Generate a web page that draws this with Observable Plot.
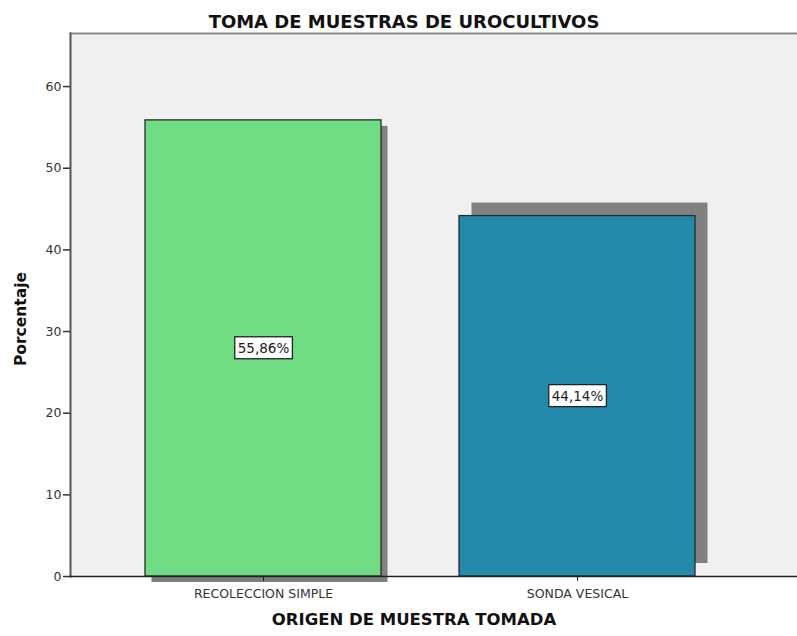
<!DOCTYPE html>
<html>
<head>
<meta charset="utf-8">
<script src="https://cdn.jsdelivr.net/npm/d3@7"></script>
<script src="https://cdn.jsdelivr.net/npm/@observablehq/plot@0.6"></script>
<style>
  html, body { margin: 0; padding: 0; background: #fff; }
  #chart svg { display: block; }
</style>
</head>
<body>
<div id="chart"></div>
<script>
const categories = ["RECOLECCION SIMPLE", "SONDA VESICAL"];
const percentages = [55.86, 44.14];
const barColors = ["#70dc84", "#238aab"];
const yTicks = [0, 10, 20, 30, 40, 50, 60];
const title = "TOMA DE MUESTRAS DE UROCULTIVOS";
const xLabel = "ORIGEN DE MUESTRA TOMADA";
const yLabel = "Porcentaje";

const data = categories.map((c, i) => ({cat: c, pct: percentages[i]}));
const fmt = v => v.toFixed(2).replace(".", ",") + "%";
const font = "DejaVu Sans, sans-serif";

const chart = Plot.plot({
  width: 797,
  height: 636,
  marginTop: 33,
  marginLeft: 70,
  marginRight: 0,
  marginBottom: 60,
  style: {fontFamily: font, fontSize: "12px", color: "#333", background: "#fff"},
  x: {domain: categories, range: [70, 768.5], paddingInner: 0.25, paddingOuter: 0.235, label: null},
  y: {domain: [0, 66.5], label: null},
  color: {domain: categories, range: barColors},
  marks: [
    Plot.frame({fill: "#f0f0f0", stroke: null}),
    Plot.frame({anchor: "top", stroke: "#8a8a8a", strokeWidth: 2}),
    Plot.barY(data.filter((d, i) => i === 0), {x: "cat", y: "pct", fill: "#808080", dx: 6.5, dy: 6}),
    Plot.barY(data.filter((d, i) => i === 1), {x: "cat", y: "pct", fill: "#808080", dx: 12.5, dy: -13}),
    Plot.barY(data, {x: "cat", y: "pct", fill: "cat", stroke: "#2a2a2a", strokeWidth: 1.3}),
    Plot.frame({anchor: "left", stroke: "#555", strokeWidth: 2}),
    Plot.ruleY([0], {stroke: "#222", strokeWidth: 1.5}),
    Plot.axisY({ticks: yTicks, tickSize: 7, tickPadding: 2, label: null, fontSize: 12.5, stroke: "#333", strokeWidth: 1.5}),
    Plot.axisX({tickSize: 5, tickPadding: 8, label: null, fontSize: 12.5, stroke: "#222"}),
    Plot.text(data, {x: "cat", y: d => d.pct / 2, text: d => fmt(d.pct), fontSize: 13.5, fill: "#222", className: "vlabel"}),
    Plot.text([title], {frameAnchor: "top", dx: -30, dy: -18, fontSize: 18, fontWeight: "bold", fill: "#111"}),
    Plot.text([xLabel], {frameAnchor: "bottom", textAnchor: "middle", dx: -20, dy: 48, fontSize: 16.5, fontWeight: "bold", fill: "#111"}),
    Plot.text([yLabel], {frameAnchor: "left", textAnchor: "middle", dx: -49, dy: 14, rotate: -90, fontSize: 15.5, fontWeight: "bold", fill: "#111"})
  ]
});

document.getElementById("chart").appendChild(chart);

// white boxes behind value labels
chart.querySelectorAll("g.vlabel text").forEach(t => {
  const b = t.getBBox();
  const r = document.createElementNS("http://www.w3.org/2000/svg", "rect");
  r.setAttribute("x", b.x - 3);
  r.setAttribute("y", b.y - 3);
  r.setAttribute("width", b.width + 6);
  r.setAttribute("height", b.height + 6);
  r.setAttribute("fill", "#fff");
  r.setAttribute("stroke", "#222");
  r.setAttribute("stroke-width", 1.3);
  if (t.getAttribute("transform")) r.setAttribute("transform", t.getAttribute("transform"));
  t.parentNode.insertBefore(r, t);
});
</script>
</body>
</html>
